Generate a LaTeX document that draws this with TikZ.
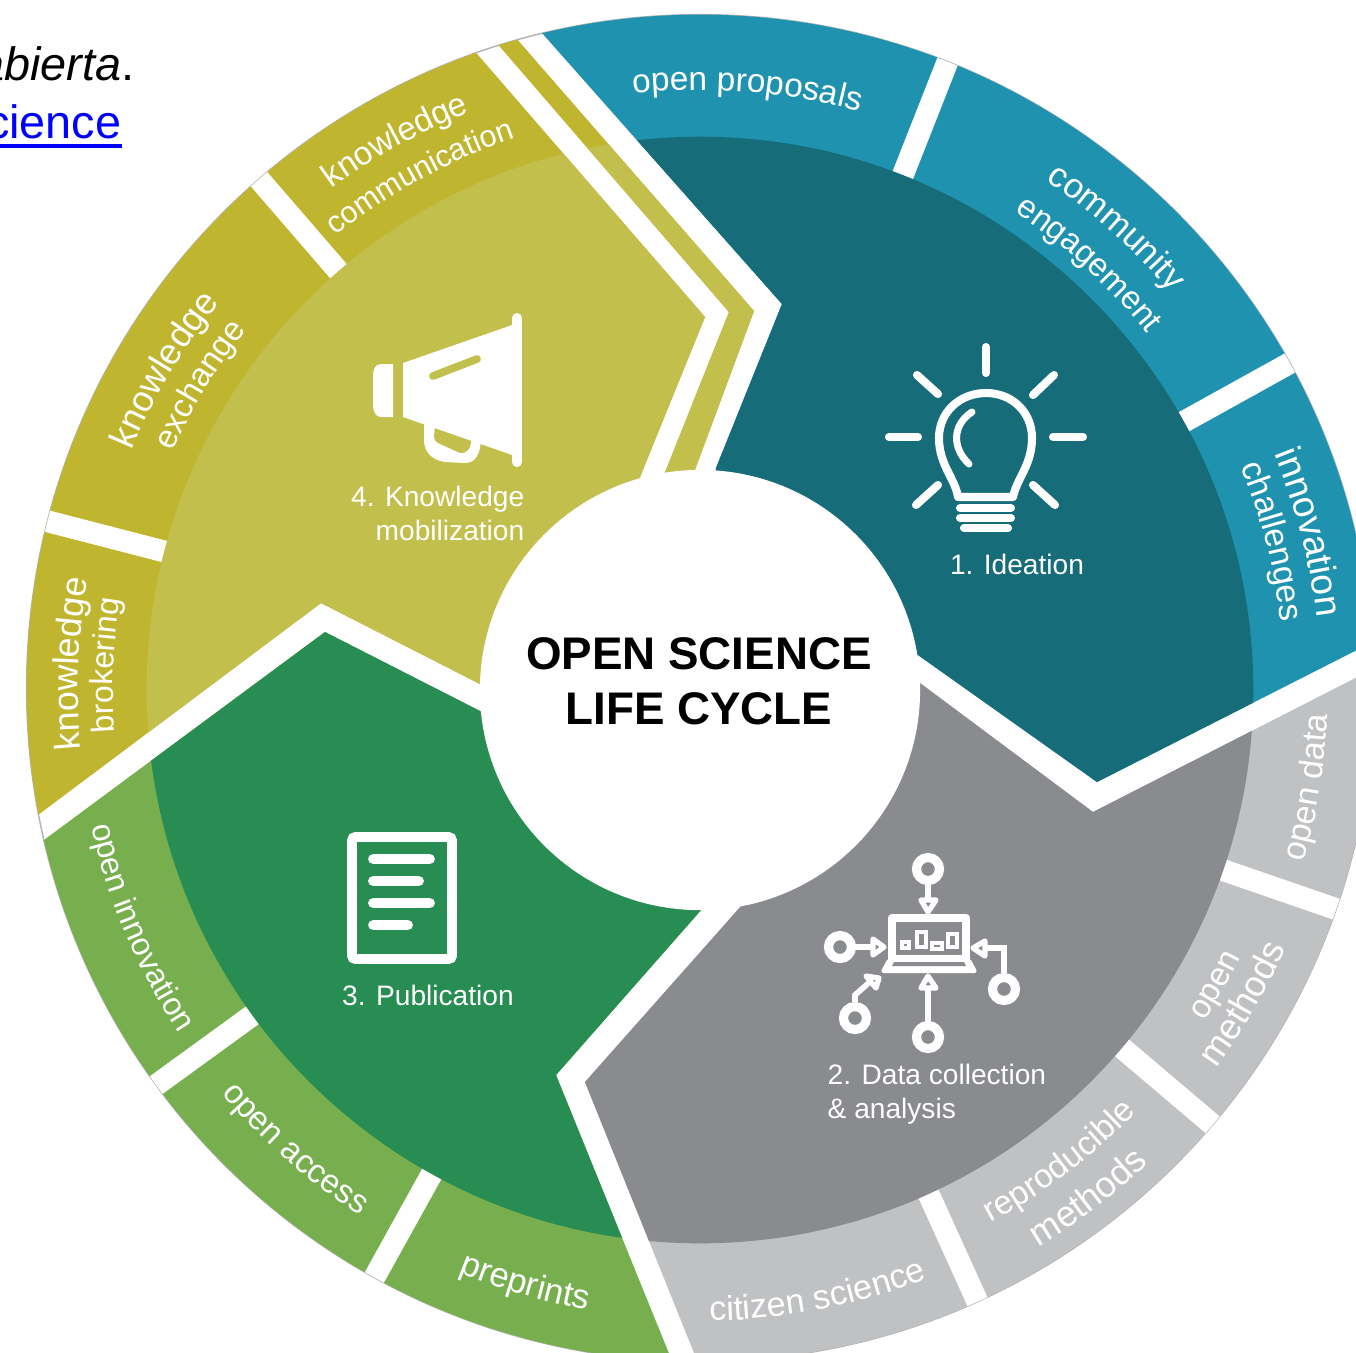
\documentclass[tikz,border=0pt]{standalone}
\usepackage{fontspec}
\setmainfont{Liberation Sans}
\usetikzlibrary{decorations.text}
\definecolor{tealB}{HTML}{1E92AE}\definecolor{tealD}{HTML}{176C7A}
\definecolor{greyB}{HTML}{C0C1C3}\definecolor{greyD}{HTML}{8A8B8F}
\definecolor{greenB}{HTML}{77AF4F}\definecolor{greenD}{HTML}{288D52}
\definecolor{yelB}{HTML}{C0B52F}\definecolor{yelD}{HTML}{C2BF4D}
\definecolor{linkblue}{HTML}{0000FF}
\newcommand\stagefont{\fontsize{8}{9.7}\selectfont}
% clockwise label (letter tops outward): size, radius, mid angle, text
\newcommand\cwlabel[4]{%
  \pgfmathsetmacro\labA{#3+30}\pgfmathsetmacro\labB{#3-30}%
  \path[decorate,decoration={text along path,text align=center,text={|\fontsize{#1}{12}\selectfont\color{white}|#4}}]
    plot[domain=\labA:\labB,samples=121] ({700+#2*cos(\x)},{690-#2*sin(\x)});}
% counter-clockwise label (letter tops inward)
\newcommand\ccwlabel[4]{%
  \pgfmathsetmacro\labA{#3-30}\pgfmathsetmacro\labB{#3+30}%
  \path[decorate,decoration={text along path,text align=center,text={|\fontsize{#1}{12}\selectfont\color{white}|#4}}]
    plot[domain=\labA:\labB,samples=121] ({700+#2*cos(\x)},{690-#2*sin(\x)});}
\newcommand\gapline[1]{\draw[white,line width=6.2pt] ({700+500*cos(#1)},{690-500*sin(#1)}) -- ({700+720*cos(#1)},{690-720*sin(#1)});}
\tikzset{
  icon/.style={white,line width=2.3pt,line cap=round,line join=round},
  docbar/.style={white,line width=3.1pt,line cap=round},
  ring/.style={draw=white,line width=2.6pt,fill=greyD},
  tri/.style={draw=white,line width=1.5pt,fill=greyD,line join=round},
  feed/.style={white,line width=1.6pt},
  stage/.style={text=white,font=\stagefont,inner sep=0pt,align=left},
  outer/.style={radius=6.73cm}
}
\begin{document}
\begin{tikzpicture}[x=0.01cm,y=-0.01cm]
\useasboundingbox (0,0) rectangle (1356,1353);
\clip (0,0) rectangle (1356,1353);
\fill[white] (0,0) rectangle (1356,1353);

% Top-left fragment of page text
\node[anchor=base east,inner sep=0pt,text=black,font=\fontsize{13.3}{16}\selectfont\itshape] (frag1) at (135,80) {abierta\upshape.};
\node[anchor=base east,inner sep=0pt,text=linkblue,font=\fontsize{13.3}{16}\selectfont] (frag2) at (122,138) {science};
\draw[linkblue,line width=1pt] (0,146) -- (122,146);

% Outline
\draw[black!30,line width=.4pt] (700,688) circle[outer];

% 1 Ideation
\begin{scope}
\clip (700,688) circle[outer];
\clip (477,-40) -- (542,33) -- (782,304) -- (716,468) -- (700,690) -- (918,655) -- (1097,782) -- (1420,618) -- (1420,-60) -- cycle;
\fill[tealB] (-60,-60) rectangle (1420,1420);
\gapline{68.5}\gapline{29}
\fill[tealD] (700,690) circle[radius=5.53cm];
\end{scope}

% 2 Data
\begin{scope}
\clip (700,688) circle[outer];
\clip (700,690) -- (920,683) -- (1093,812) -- (1420,645) -- (1420,1420) -- (721,1420) -- (585,1082) -- (742,905) -- cycle;
\fill[greyB] (-60,-60) rectangle (1420,1420);
\gapline{-19}\gapline{-40.3}\gapline{-65.6}
\fill[greyD] (700,690) circle[radius=5.53cm];
\end{scope}

% 3 Publication
\begin{scope}
\clip (700,688) circle[outer];
\clip (700,690) -- (482,712) -- (325,632) -- (48,837) -- (-60,917) -- (-60,1420) -- (696,1420) -- (556,1075) -- (702,909) -- cycle;
\fill[greenB] (-60,-60) rectangle (1420,1420);
\gapline{216}\gapline{241}
\fill[greenD] (700,690) circle[radius=5.53cm];
\end{scope}

% 4 Knowledge mobilization
\begin{scope}
\clip (700,688) circle[outer];
\clip (700,690) -- (480,684) -- (321,603) -- (42,812) -- (-60,888) -- (-60,-60) -- (379,-60) -- (478,55) -- (705,317) -- (640,477) -- cycle;
\fill[yelB] (-60,-60) rectangle (1420,1420);
\gapline{130.8}\gapline{165.5}
\fill[yelD] (700,690) circle[radius=5.53cm];
\end{scope}
\begin{scope}
\clip (700,688) circle[outer];
\clip (425,-40) -- (729,312) -- (650,510) -- (680,510) -- (754,311) -- (448,-40) -- cycle;
\fill[yelB] (-60,-60) rectangle (1420,1420);
\fill[yelD] (700,690) circle[radius=5.53cm];
\end{scope}

% Centre
\fill[white] (700,690) circle[radius=2.2cm];
\node[font=\fontsize{13}{15.7}\selectfont\bfseries,align=center,inner sep=0pt,text=black] (centre) at (699,681) {OPEN SCIENCE\\LIFE CYCLE};

% Stage labels
\node[stage,anchor=center] (s1) at (1017,564) {1. Ideation};
\node[stage,anchor=north west] (s2) at (827,1063) {2. Data collection\\[0pt]\& analysis};
\node[stage,anchor=center] (s3) at (428,995) {3. Publication};
\node[stage,anchor=north east,align=right] (s4) at (525,485) {4. Knowledge\\mobilization};

% Band labels
\cwlabel{9.5}{600}{85.5}{open proposals}
\cwlabel{9.9}{616}{48}{community}
\cwlabel{9.3}{572}{47.6}{engagement}
\cwlabel{10.6}{621}{14.5}{innovation}
\cwlabel{9.6}{585}{14.6}{challenges}
\ccwlabel{9.6}{628}{-9.1}{open data}
\ccwlabel{9.4}{603}{-29.8}{open}
\ccwlabel{10.3}{640}{-30}{methods}
\ccwlabel{9.5}{607}{-52.7}{reproducible}
\ccwlabel{10.3}{652}{-52.6}{methods}
\ccwlabel{9.75}{631}{-79}{citizen science}
\ccwlabel{9.8}{630}{-106.4}{preprints}
\ccwlabel{9.4}{626}{-131.4}{open access}
\ccwlabel{9.1}{624}{-157}{open innovation}
\cwlabel{10.2}{622}{177.6}{knowledge}
\cwlabel{9.1}{587}{177.6}{brokering}
\cwlabel{10.3}{617}{149.1}{knowledge}
\cwlabel{9.4}{579}{148.6}{exchange}
\cwlabel{9.4}{622}{119}{knowledge}
\cwlabel{8.7}{582}{118.6}{communication}

% Light bulb
\draw[icon] (986,347) -- (986,373);
\draw[icon] (917,375) -- (938,394);
\draw[icon] (1054,375) -- (1033,395);
\draw[icon] (889,437) -- (918,437);
\draw[icon] (1083,437) -- (1053,437);
\draw[icon] (938,485) -- (916,505);
\draw[icon] (1033,485) -- (1055,505);
\draw[icon] (958,497) .. controls (955,478) and (939,465) .. (939,438) .. controls (939,412) and (960,393) .. (986,393) .. controls (1012,393) and (1032,412) .. (1032,438) .. controls (1032,465) and (1017,478) .. (1013,497) -- cycle;
\draw[icon,line width=2pt] (972,412) .. controls (952,425) and (952,448) .. (969,464);
\draw[icon] (960,508) -- (1011,508);
\draw[icon] (960,518) -- (1011,518);
\draw[icon] (964,528) -- (1008,528);

% Megaphone
\fill[white] (393,364) -- (381,364) .. controls (375,364) and (373,370) .. (373,376) -- (373,405) .. controls (373,412) and (376,417) .. (381,417) -- (393,417) -- cycle;
\fill[white] (424,420) -- (424,440) .. controls (424,452) and (432,460) .. (445,462) -- (465,463) .. controls (475,463) and (480,455) .. (481,440) -- cycle;
\fill[yelD] (435,425) -- (434,437) .. controls (434,440) and (436,442) .. (438,443) -- (460,453) .. controls (466,454) and (471,449) .. (471,440) -- cycle;
\fill[white] (403,363) -- (515,324) -- (515,456) -- (403,417) -- cycle;
\draw[white,line width=2.85pt,line cap=round] (517,318) -- (517,462);
\draw[yelD,line width=2.2pt,line cap=round] (433,376) -- (477,359);

% Document
\draw[white,line width=2.8pt,rounded corners=1pt] (352,837) rectangle (452,959);
\draw[docbar] (373.5,859) -- (429.5,859);
\draw[docbar] (373.5,881) -- (418.5,881);
\draw[docbar] (373.5,903) -- (429.5,903);
\draw[docbar] (373.5,925) -- (407.5,925);

% Data icon
\draw[feed] (928,883) -- (928,900);
\draw[feed] (853,947) -- (872,947);
\draw[feed] (1004,973) -- (1004,948) -- (985,948);
\draw[feed] (928,1022) -- (928,988);
\draw[feed] (855,1002) -- (855,995) -- (872,980);
\draw[ring] (928,869) circle[radius=0.115cm];
\draw[ring] (840,947) circle[radius=0.115cm];
\draw[ring] (855,1018) circle[radius=0.115cm];
\draw[ring] (928,1037) circle[radius=0.115cm];
\draw[ring] (1004,989) circle[radius=0.115cm];
\draw[tri] (921,900) -- (936,900) -- (928,912) -- cycle;
\draw[tri] (873,939) -- (873,955) -- (884,947) -- cycle;
\draw[tri] (985,941) -- (985,956) -- (973,948) -- cycle;
\draw[tri] (921,988) -- (936,988) -- (928,976) -- cycle;
\draw[tri] (866,976) -- (879,978) -- (876,988) -- cycle;
\fill[white,rounded corners=1pt] (888,958) -- (970,958) -- (978,973) -- (880,973) -- cycle;
\draw[white,line width=2.5pt,line join=round] (892,918) rectangle (966,959);
\fill[greyD] (894,962) -- (964,962) -- (966,966) -- (892,966) -- cycle;
\draw[white,line width=1.1pt] (902,942) rectangle (909,948);
\draw[white,line width=1.1pt] (917,932) rectangle (926,947);
\draw[white,line width=1.1pt] (932,943) rectangle (942,949);
\draw[white,line width=1.1pt] (948,934) rectangle (957,947);
\end{tikzpicture}
\end{document}
